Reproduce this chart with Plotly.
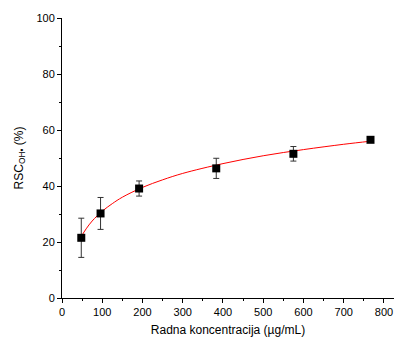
import plotly.graph_objects as go

conc = [47.9, 95.8, 191.6, 383.3, 575.0, 766.6]
rsc = [21.5, 30.2, 39.1, 46.3, 51.5, 56.5]
rsc_err = [7.0, 5.7, 2.7, 3.6, 2.6, 0.5]

fit_x = [48, 60, 75, 100, 125, 150, 200, 250, 300, 400, 500, 600, 700, 767]
fit_y = [22.0, 24.7, 27.5, 31.0, 33.7, 36.0, 39.5, 42.2, 44.5, 48.0, 50.8, 53.0, 54.9, 56.0]

x_ticks = [0, 100, 200, 300, 400, 500, 600, 700, 800]
y_ticks = [0, 20, 40, 60, 80, 100]

fig = go.Figure()
fig.add_trace(go.Scatter(x=fit_x, y=fit_y, mode="lines", line=dict(color="red", width=1, shape="spline"),
                         showlegend=False, hoverinfo="skip"))
fig.add_trace(go.Scatter(x=conc, y=rsc, mode="markers",
                         marker=dict(symbol="square", size=8, color="black"),
                         error_y=dict(type="data", array=rsc_err, color="#333333", thickness=1, width=3),
                         showlegend=False))

axis_common = dict(showline=True, linecolor="black", linewidth=1, ticks="outside", ticklen=4,
                   tickcolor="black", showgrid=False, zeroline=False, mirror=False, automargin=False,
                   tickfont=dict(family="Liberation Sans, Arial", size=11, color="black"),
                   minor=dict(ticks="outside", ticklen=2, tickcolor="black"))

fig.update_layout(
    width=396, height=337,
    margin=dict(l=62, r=2, t=18, b=39),
    paper_bgcolor="white", plot_bgcolor="white",
    font=dict(family="Liberation Sans, Arial", color="black"),
    xaxis=dict(range=[0, 825], tickvals=x_ticks, **axis_common,
               title=dict(text="Radna koncentracija (µg/mL)", font=dict(size=12), standoff=8)),
    yaxis=dict(range=[0, 100], tickvals=y_ticks, **axis_common,
               title=dict(text="RSC<sub>OH•</sub> (%)", font=dict(size=12), standoff=10)),
)
fig.update_xaxes(minor=dict(tickvals=[50, 150, 250, 350, 450, 550, 650, 750]))
fig.update_yaxes(minor=dict(dtick=10))
fig.write_html("out.html", config={"displayModeBar": False},
               post_script="document.body.style.margin='0';document.body.style.overflow='hidden';")
